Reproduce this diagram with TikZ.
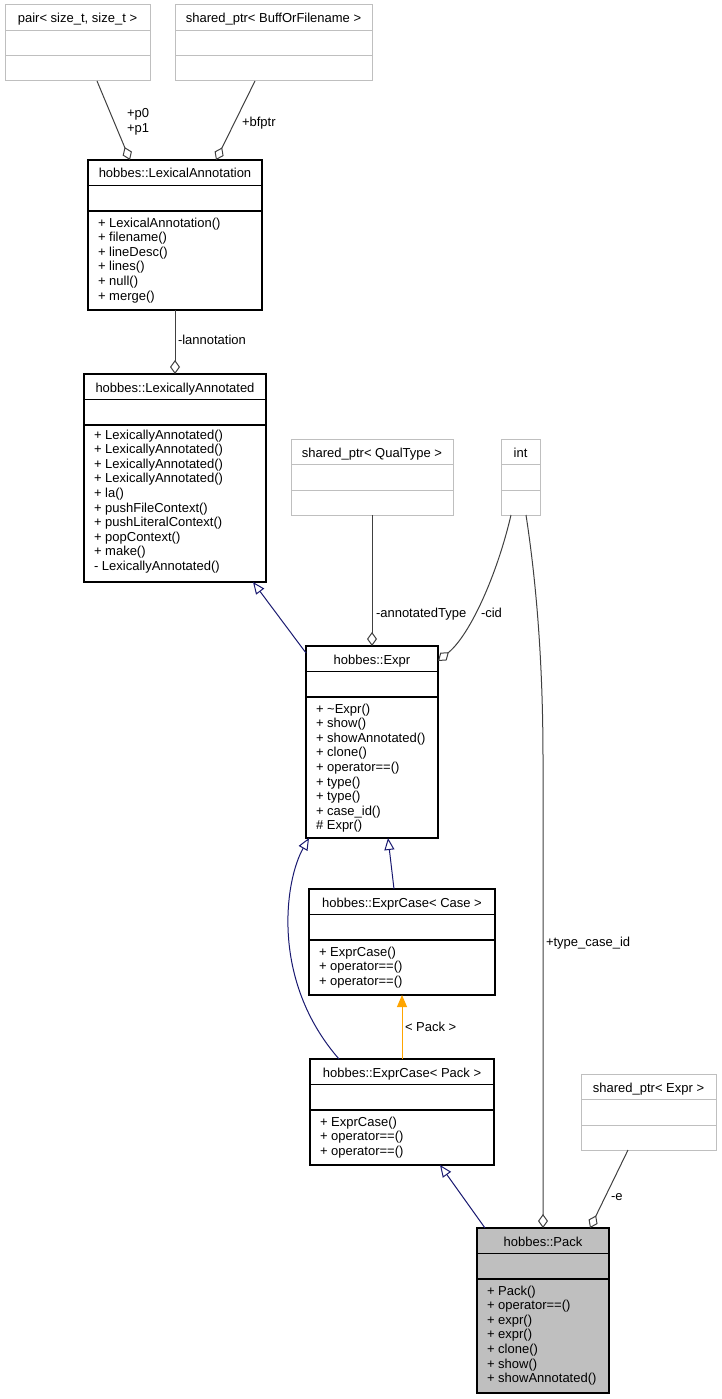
\documentclass[tikz,border=0pt]{standalone}
\usepackage{fontspec}
\setmainfont{Liberation Sans}
\usetikzlibrary{arrows.meta}
\definecolor{gbord}{HTML}{BFBFBF}
\definecolor{edgegray}{HTML}{404040}
\definecolor{navyb}{HTML}{191970}
\definecolor{orng}{HTML}{FFA500}
\definecolor{packfill}{HTML}{BFBFBF}
\tikzset{
  txt/.style={font=\fontsize{13}{14.6}\selectfont, inner sep=0pt, outer sep=0pt},
  gbox/.style={draw=gbord, line width=1pt, inner sep=0pt, outer sep=0pt, anchor=north west},
  gboxline/.style={draw=gbord, line width=1pt},
  bbox/.style={draw=black, line width=1.1pt, fill=white, inner sep=0pt, outer sep=0pt, anchor=north west},
  bboxline/.style={draw=black, line width=1.1pt},
  pbox/.style={draw=black, line width=1.1pt, fill=packfill, inner sep=0pt, outer sep=0pt, anchor=north west},
  pboxline/.style={draw=black, line width=1.1pt},
  agg/.style={draw=edgegray, line width=1pt, -{Diamond[open, length=14pt, width=10pt, line width=1pt]}},
  inh/.style={draw=navyb, line width=1pt, -{Triangle[open, length=12pt, width=10pt, line width=1pt]}},
  tmpl/.style={draw=orng, line width=1pt, -{Triangle[length=12pt, width=10pt]}},
}
% name, style, x1, y1, x2, y2, title
\newcommand\umlhead[7]{%
  \node[#2, minimum width={#5pt-#3pt}, minimum height={#6pt-#4pt}] (#1) at (#3,#4) {};
  \draw[#2line] (#3,{#4+25.5}) -- (#5,{#4+25.5});
  \draw[#2line] (#3,{#4+51}) -- (#5,{#4+51});
  \node[txt, anchor=base] (#1-t) at ({(#3+#5)/2},{#4+18}) {#7};
}
% name, x1, y1, number of lines, methods (anchor = baseline of last line)
\newcommand\umlmeth[5]{%
  \node[txt, anchor=base west, align=left] (#1-m) at ({#2+10},{#3+67+(#4-1)*14.6}) {#5};
}
\begin{document}
\begin{tikzpicture}[x=1pt,y=-1pt]
\useasboundingbox (0,0) rectangle (721,1399);

% boxes
\umlhead{pair}{gbox}{5}{5}{150}{81}{pair< size\_t, size\_t >}
\umlhead{buff}{gbox}{175}{5}{372}{81}{shared\_ptr< BuffOrFilename >}
\umlhead{la}{bbox}{88}{160}{262}{310}{hobbes::LexicalAnnotation}
\umlmeth{la}{88}{160}{6}{+ LexicalAnnotation()\\+ filename()\\+ lineDesc()\\+ lines()\\+ null()\\+ merge()}
\umlhead{lexa}{bbox}{84}{374}{266}{582}{hobbes::LexicallyAnnotated}
\umlmeth{lexa}{84}{372}{10}{+ LexicallyAnnotated()\\+ LexicallyAnnotated()\\+ LexicallyAnnotated()\\+ LexicallyAnnotated()\\+ la()\\+ pushFileContext()\\+ pushLiteralContext()\\+ popContext()\\+ make()\\- LexicallyAnnotated()}
\umlhead{qual}{gbox}{291}{439}{453}{515}{shared\_ptr< QualType >}
\umlhead{int}{gbox}{501}{439}{540}{515}{int}
\umlhead{expr}{bbox}{306}{646}{438}{838}{hobbes::Expr}
\umlmeth{expr}{306}{646}{9}{+ \textasciitilde Expr()\\+ show()\\+ showAnnotated()\\+ clone()\\+ operator==()\\+ type()\\+ type()\\+ case\_id()\\\# Expr()}
\umlhead{ecc}{bbox}{309}{889}{495}{995}{hobbes::ExprCase< Case >}
\umlmeth{ecc}{309}{889}{3}{+ ExprCase()\\+ operator==()\\+ operator==()}
\umlhead{ecp}{bbox}{310}{1059}{494}{1165}{hobbes::ExprCase< Pack >}
\umlmeth{ecp}{310}{1059}{3}{+ ExprCase()\\+ operator==()\\+ operator==()}
\umlhead{sexpr}{gbox}{581}{1074}{716}{1150}{shared\_ptr< Expr >}
\umlhead{pack}{pbox}{477}{1228}{609}{1393}{hobbes::Pack}
\umlmeth{pack}{477}{1228}{7}{+ Pack()\\+ operator==()\\+ expr()\\+ expr()\\+ clone()\\+ show()\\+ showAnnotated()}

% connectors
\draw[agg] ([xshift=92pt]pair.south west) -- ([xshift=42pt]la.north west);
\node[txt, anchor=base west, align=left] (lp) at (127,132.1) {+p0\\+p1};

\draw[agg] ([xshift=80pt]buff.south west) -- ([xshift=128pt]la.north west);
\node[txt, anchor=base west] (lb) at (242,126.5) {+bfptr};

\draw[agg] ([xshift=87pt]la.south west) -- ([xshift=91pt]lexa.north west);
\node[txt, anchor=base west] (ll) at (178,344) {-lannotation};

\draw[inh] ([yshift=-7pt]expr.north west) -- ([xshift=169pt]lexa.south west);

\draw[agg] ([xshift=81pt]qual.south west) -- ([xshift=66pt]expr.north west);
\node[txt, anchor=base west] (lq) at (376,617) {-annotatedType};

\draw[agg] ([xshift=10pt]int.south west) .. controls (497,575) and (470,635) .. ([yshift=-15pt]expr.north east);
\node[txt, anchor=base west] (lc) at (481,617) {-cid};

\coordinate (tcbend) at (543,760);
\draw[agg] ([xshift=25pt]int.south west) .. controls (536,580) and (543,660) .. (tcbend) -- ([xshift=66pt]pack.north west);
\node[txt, anchor=base west] (lt) at (546,946) {+type\_case\_id};

\draw[inh] ([xshift=85pt]ecc.north west) -- ([xshift=82pt]expr.south west);
\draw[inh] ([xshift=29pt]ecp.north west) .. controls (270,980) and (285,880) .. ([xshift=3pt]expr.south west);

\draw[tmpl] ([xshift=92pt]ecp.north west) -- ([xshift=93pt]ecc.south west);
\node[txt, anchor=base west] (lk) at (405,1031) {< Pack >};

\draw[inh] ([xshift=8pt]pack.north west) -- ([xshift=130pt]ecp.south west);

\draw[agg] ([xshift=47pt]sexpr.south west) -- ([xshift=113pt]pack.north west);
\node[txt, anchor=base west] (le) at (611,1200) {-e};
\end{tikzpicture}
\end{document}
